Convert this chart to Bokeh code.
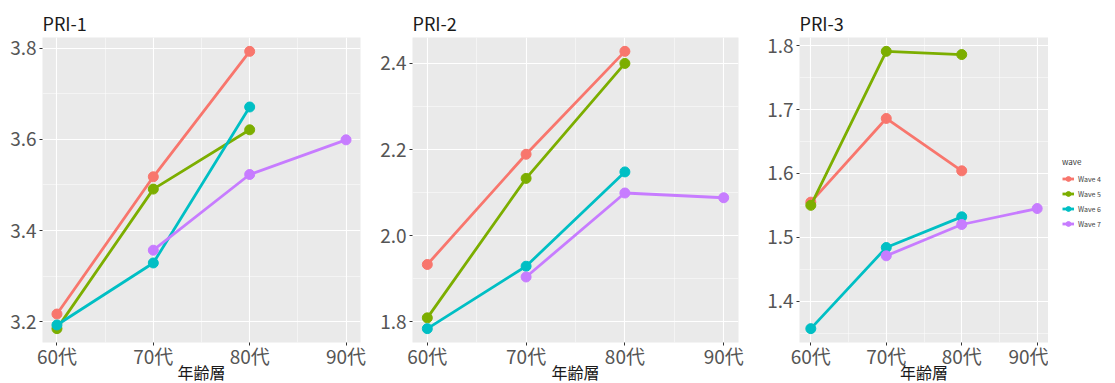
from bokeh.plotting import figure
from bokeh.layouts import row
from bokeh.models import Range1d, FixedTicker, PrintfTickFormatter, Legend, LegendItem
from bokeh.embed import file_html
from bokeh.resources import INLINE

# Age groups (x) and their tick labels
ages = [60, 70, 80, 90]
age_labels = ["60代", "70代", "80代", "90代"]

waves = ["Wave 4", "Wave 5", "Wave 6", "Wave 7"]
colors = ["#F8766D", "#7CAE00", "#00BFC4", "#C77CFF"]

# Mean scores per age group; None where a wave has no such age group
pri1_wave4 = [3.217, 3.518, 3.793, None]
pri1_wave5 = [3.185, 3.491, 3.621, None]
pri1_wave6 = [3.193, 3.329, 3.671, None]
pri1_wave7 = [None, 3.357, 3.523, 3.599]

pri2_wave4 = [1.933, 2.189, 2.428, None]
pri2_wave5 = [1.809, 2.133, 2.400, None]
pri2_wave6 = [1.784, 1.929, 2.148, None]
pri2_wave7 = [None, 1.904, 2.099, 2.088]

pri3_wave4 = [1.555, 1.686, 1.604, None]
pri3_wave5 = [1.550, 1.791, 1.786, None]
pri3_wave6 = [1.357, 1.484, 1.532, None]
pri3_wave7 = [None, 1.471, 1.520, 1.545]

pri1_ticks = [3.2, 3.4, 3.6, 3.8]
pri2_ticks = [1.8, 2.0, 2.2, 2.4]
pri3_ticks = [1.4, 1.5, 1.6, 1.7, 1.8]

FONT = "Noto Sans CJK JP"
FRAME_H = 305
TOP = 37


def expanded(lo, hi, frac=0.05):
    pad = (hi - lo) * frac
    return lo - pad, hi + pad


def draw_series(p, series):
    for color, s in zip(colors, series):
        xs = [a for a, v in zip(ages, s) if v is not None]
        ys = [v for v in s if v is not None]
        ln = p.line(xs, ys, line_color=color, line_width=2.8)
        pt = p.scatter(xs, ys, size=10, fill_color=color, line_color=color)
        yield ln, pt


def panel(title, series, yticks, frame_w, border_left, border_right):
    vals = [v for s in series for v in s if v is not None]
    y0, y1 = expanded(min(vals), max(vals))
    x0, x1 = expanded(min(ages), max(ages))
    p = figure(frame_width=frame_w, frame_height=FRAME_H, output_backend="svg",
               toolbar_location=None,
               x_range=Range1d(x0, x1), y_range=Range1d(y0, y1),
               min_border_left=border_left, min_border_right=border_right,
               min_border_top=TOP, min_border_bottom=0)
    p.background_fill_color = "#EAEAEA"
    p.border_fill_color = "white"
    p.outline_line_color = None

    p.title.text = title
    p.title.text_font = FONT
    p.title.text_font_size = "18px"
    p.title.text_font_style = "normal"
    p.title.text_color = "#1a1a1a"
    p.title.align = "left"
    p.title.offset = 0
    p.title.standoff = 4

    step = yticks[1] - yticks[0]
    yminor = [t + step / 2 for t in [yticks[0] - step] + yticks]
    p.xaxis.ticker = FixedTicker(ticks=ages, minor_ticks=[65, 75, 85])
    p.xaxis.major_label_overrides = {a: l for a, l in zip(ages, age_labels)}
    p.yaxis.ticker = FixedTicker(ticks=yticks, minor_ticks=yminor)
    p.yaxis.formatter = PrintfTickFormatter(format="%.1f")

    for ax in (p.xaxis[0], p.yaxis[0]):
        ax.axis_line_color = None
        ax.major_tick_line_color = "#333333"
        ax.major_tick_out = 3
        ax.major_tick_in = 0
        ax.minor_tick_line_color = None
        ax.major_label_text_font = FONT
        ax.major_label_text_font_size = "19px"
        ax.major_label_text_color = "#555555"
        ax.major_label_standoff = 2
    p.xaxis.major_label_standoff = -5
    p.xaxis.axis_label = "年齢層"
    p.xaxis.axis_label_text_font = FONT
    p.xaxis.axis_label_text_font_size = "16px"
    p.xaxis.axis_label_text_font_style = "normal"
    p.xaxis.axis_label_text_color = "#1a1a1a"
    p.xaxis.axis_label_standoff = -12

    for g in (p.xgrid[0], p.ygrid[0]):
        g.grid_line_color = "white"
        g.grid_line_width = 1.1
        g.minor_grid_line_color = "white"
        g.minor_grid_line_width = 0.5

    list(draw_series(p, series))
    return p


def legend_strip(width, series):
    # narrow white strip holding the shared "wave" legend; its own ranges keep
    # the series glyphs out of view so only the legend keys show
    lp = figure(frame_width=width, frame_height=FRAME_H, output_backend="svg",
                toolbar_location=None, x_axis_type=None, y_axis_type=None,
                x_range=Range1d(0, 1), y_range=Range1d(0, 1),
                min_border_left=0, min_border_right=0,
                min_border_top=TOP, min_border_bottom=0)
    lp.outline_line_color = None
    lp.background_fill_color = "white"
    lp.xgrid.visible = False
    lp.ygrid.visible = False
    items = [LegendItem(label=name, renderers=[ln, pt])
             for name, (ln, pt) in zip(waves, draw_series(lp, series))]
    lg = Legend(items=items, title="wave", location=(14, 112),
                background_fill_alpha=0, border_line_color=None,
                label_text_font=FONT, label_text_font_size="7px",
                label_text_color="#444444",
                title_text_font=FONT, title_text_font_size="8px",
                title_text_font_style="normal",
                title_text_color="#333333", title_standoff=5,
                glyph_width=12, glyph_height=13, spacing=2,
                label_standoff=4, padding=2, margin=0)
    lp.add_layout(lg, "center")
    return lp


pri3 = [pri3_wave4, pri3_wave5, pri3_wave6, pri3_wave7]
p1 = panel("PRI-1", [pri1_wave4, pri1_wave5, pri1_wave6, pri1_wave7], pri1_ticks, 318, 42, 10)
p2 = panel("PRI-2", [pri2_wave4, pri2_wave5, pri2_wave6, pri2_wave7], pri2_ticks, 326, 42, 12)
p3 = panel("PRI-3", pri3, pri3_ticks, 249, 49, 0)
leg = legend_strip(67, pri3)

layout = row(p1, p2, p3, leg, spacing=0)
open("out.html", "w").write(file_html(layout, INLINE))
